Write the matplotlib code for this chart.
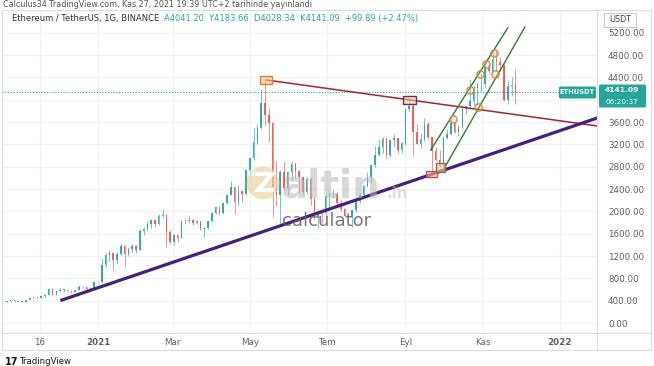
import matplotlib.pyplot as plt
import numpy as np
from matplotlib.patches import Rectangle, Circle, Polygon, FancyBboxPatch

W, H = 654, 366
UP, DOWN = "#26a69a", "#ef5350"
TEAL = "#26a69a"
GRID = "#eff1f5"
FRAME = "#d9dce3"
MUTED = "#5d606b"

plt.rcParams.update({"font.family": "DejaVu Sans", "font.size": 6.3})

# ETH/USDT, one candle every 3 days; x = days since 2021-01-01
FIRST_DAY, STEP = -75, 3
FIRST_OPEN = 372
CLOSE = [378, 390, 410, 395, 385, 385, 415, 455, 460, 455,
         480, 510, 605, 518, 575, 595, 595, 575, 560, 590,
         640, 640, 610, 630, 730, 730, 1040, 1220, 1260, 1130,
         1230, 1380, 1230, 1320, 1380, 1310, 1650, 1680, 1770, 1840,
         1780, 1920, 1930, 1630, 1460, 1570, 1530, 1830, 1820, 1850,
         1800, 1820, 1680, 1710, 1820, 1970, 2070, 1970, 2150, 2300,
         2430, 2160, 2360, 2320, 2750, 2950, 3250, 3490, 3950, 3720,
         3580, 2440, 2300, 2710, 2420, 2700, 2850, 2720, 2610, 2350,
         2580, 2230, 1890, 1990, 1980, 2270, 2320, 2320, 2150, 2040,
         1910, 1900, 2020, 2190, 2300, 2460, 2610, 2830, 3010, 3160,
         3300, 3010, 3280, 3320, 3100, 3230, 3830, 3890, 3420, 3210,
         3290, 3570, 3330, 3080, 2930, 2810, 3310, 3380, 3590, 3420,
         3510, 3830, 3880, 3970, 4220, 4290, 4290, 4600, 4520, 4730,
         4670, 4630, 3990, 4240, 4270, 4141.09]
HIGH = [392, 398, 418, 415, 400, 395, 420, 470, 475, 465,
        495, 520, 620, 610, 585, 620, 610, 600, 580, 595,
        675, 660, 650, 640, 750, 760, 1160, 1260, 1300, 1270,
        1280, 1440, 1400, 1370, 1410, 1390, 1690, 1720, 1820, 1870,
        1860, 1960, 2040, 1960, 1660, 1600, 1580, 1850, 1880, 1940,
        1870, 1840, 1830, 1720, 1840, 1990, 2100, 2100, 2170, 2320,
        2540, 2440, 2480, 2370, 2760, 2980, 3500, 3560, 4200, 4370,
        3850, 3600, 2900, 2750, 2900, 2720, 2900, 2880, 2740, 2620,
        2620, 2600, 2260, 2030, 2050, 2300, 2340, 2400, 2350, 2200,
        2060, 1920, 2030, 2200, 2330, 2470, 2700, 2840, 3180, 3280,
        3330, 3330, 3300, 3380, 3330, 3250, 3840, 4030, 3950, 3560,
        3400, 3680, 3600, 3330, 3160, 3100, 3350, 3470, 3650, 3620,
        3550, 3900, 3890, 4380, 4240, 4300, 4460, 4670, 4630, 4840,
        4870, 4770, 4650, 4350, 4400, 4550]
LOW = [370, 372, 385, 385, 370, 375, 380, 410, 445, 440,
       450, 470, 505, 490, 510, 570, 560, 555, 540, 555,
       585, 620, 580, 590, 620, 710, 720, 1010, 1110, 950,
       1080, 1210, 1000, 1200, 1280, 1260, 1300, 1580, 1640, 1700,
       1720, 1760, 1880, 1370, 1420, 1400, 1450, 1520, 1780, 1800,
       1760, 1770, 1660, 1550, 1690, 1810, 1950, 1940, 1960, 2130,
       2290, 1950, 2100, 2160, 2300, 2720, 2930, 3200, 3480, 3550,
       3250, 1900, 2100, 1730, 2370, 2300, 2550, 2600, 2330, 2300,
       2320, 2120, 1850, 1700, 1800, 1880, 2050, 2240, 2100, 2000,
       1900, 1850, 1720, 1990, 2150, 2250, 2440, 2500, 2800, 3000,
       3050, 2950, 2970, 3150, 3050, 3050, 3190, 3780, 3000, 3200,
       3140, 3270, 3300, 2650, 2900, 2800, 2740, 3290, 3370, 3400,
       3360, 3500, 3740, 3850, 3900, 3900, 4150, 4230, 4480, 4500,
       4510, 4520, 3970, 3930, 4070, 3930]
LAST_PRICE = 4141.09

# drawings (day, price anchors)
RED_X, RED_Y = [133, 395], [4355, 3530]
PURPLE_X, PURPLE_Y = [-28.5, 397], [412, 3692]
CH_UP_X, CH_UP_Y = [263, 324], [3100, 5290]
CH_LO_X, CH_LO_Y = [272, 337.5], [2706, 5305]
CIRCLE_X = [280.6, 294.1, 302, 306.7, 313, 300.4, 313.8]
CIRCLE_Y = [3656, 4176, 4462, 4642, 4839, 3871, 4462]
# boxes: (day0, day1, price0, price1)
BOX_PEAK = (128, 137.5, 4283, 4427)
BOX_SEP = (241, 251.4, 3925, 4068)
BOX_LOW = (259.3, 268, 2616, 2724)
BOX_CH = (267.6, 274.7, 2706, 2867)

YTICKS = list(range(0, 5201, 400))
HIDDEN_TICK = 4000  # sits under the last-price badge
XTICKS = [-46, 0, 59, 120, 181, 243, 304, 365]
XLABELS = ["16", "2021", "Mar", "May", "Tem", "Eyl", "Kas", "2022"]


def frac(x0, y0, x1, y1):
    return [x0 / W, 1 - y1 / H, (x1 - x0) / W, (y1 - y0) / H]


fig = plt.figure(figsize=(W / 100, H / 100), dpi=100)
ax = fig.add_axes(frac(2, 10, 597, 333))

close = np.array(CLOSE, float)
opens = np.r_[FIRST_OPEN, close[:-1]]
x = FIRST_DAY + STEP * np.arange(len(close))
cols = np.where(close >= opens, UP, DOWN)
ax.vlines(x, LOW, HIGH, colors=cols, lw=0.5, alpha=0.9, zorder=3)
ax.bar(x, np.maximum(np.abs(close - opens), 10), width=1.2,
       bottom=np.minimum(opens, close), color=cols, alpha=0.9, lw=0, zorder=3)

ax.axhline(LAST_PRICE, color=TEAL, ls=(0, (1, 1.5)), lw=0.8, zorder=2)

ax.plot(RED_X, RED_Y, color="#a3262a", lw=1.1, zorder=4)
ax.plot(PURPLE_X, PURPLE_Y, color="#43217f", lw=2.3, zorder=4)
ax.plot(CH_UP_X, CH_UP_Y, color="#2e7d32", lw=1.0, zorder=4)
ax.plot(CH_LO_X, CH_LO_Y, color="#2e7d32", lw=1.0, zorder=4)
ax.scatter(CIRCLE_X, CIRCLE_Y, s=28, facecolor=(0.96, 0.75, 0.5, 0.3),
           edgecolor="#c98a4b", lw=0.9, zorder=5)

for (d0, d1, p0, p1), ec in [(BOX_PEAK, "#d9822b"), (BOX_SEP, "#5b2a86"),
                            (BOX_LOW, "#c0504d"), (BOX_CH, "#8c6d4f")]:
    ax.add_patch(Rectangle((d0, p0), d1 - d0, p1 - p0, facecolor=(0.98, 0.78, 0.55, 0.6),
                           edgecolor=ec, lw=1.0, zorder=5))

ax.set_xlim(-75.9, 394.5)
ax.set_ylim(-179, 5609)
ax.set_yticks(YTICKS)
ax.set_yticklabels(["" if v == HIDDEN_TICK else f"{v:.2f}" for v in YTICKS])
ax.yaxis.tick_right()
ax.set_xticks(XTICKS)
ax.set_xticklabels(XLABELS)
for lab in ax.get_xticklabels():
    if lab.get_text() in ("2021", "2022"):
        lab.set_fontweight("bold")
        lab.set_color("#333333")
ax.tick_params(length=0, colors=MUTED, labelsize=6.3)
ax.tick_params(axis="y", pad=8)
ax.tick_params(axis="x", pad=3.5)
ax.grid(color=GRID, lw=0.8, zorder=0)
ax.set_axisbelow(True)
for s in ax.spines.values():
    s.set_visible(False)

# overlay in pixel coordinates for frame, labels, watermark
ov = fig.add_axes([0, 0, 1, 1], facecolor="none")
ov.set_xlim(0, W)
ov.set_ylim(H, 0)
ov.axis("off")
ov.add_patch(Rectangle((2, 10), 649, 340, fill=False, edgecolor=FRAME, lw=0.8))
ov.plot([597, 597], [10, 350], color=FRAME, lw=0.8)
ov.plot([2, 651], [333, 333], color=FRAME, lw=0.8)

ov.text(3, 4.5, "Calculus34 TradingView.com, Kas 27, 2021 19:39 UTC+2 tarihinde yayınlandı",
        fontsize=5.8, color="#555555", va="center")
t = ov.text(12, 18, "Ethereum / TetherUS, 1G, BINANCE  ", fontsize=6, color="#333333", va="center")
ov.annotate("A4041.20  Y4183.66  D4028.34  K4141.09  +99.89 (+2.47%)", xycoords=t,
            xy=(1, 0.5), va="center", fontsize=6, color=TEAL)

# axis badges
ov.add_patch(Rectangle((604, 13), 32, 14, facecolor="white", edgecolor="#c5c8d0", lw=0.7))
ov.text(620, 20, "USDT", fontsize=5.8, color="#444444", ha="center", va="center")
ov.add_patch(FancyBboxPatch((559, 86.5), 37, 12, boxstyle="round,pad=0,rounding_size=1.5",
                            facecolor=TEAL, edgecolor="none"))
ov.text(577.5, 92.5, "ETHUSDT", fontsize=4.8, color="white", weight="bold", ha="center", va="center")
ov.add_patch(FancyBboxPatch((599, 84.5), 47, 23, boxstyle="round,pad=0,rounding_size=1.5",
                            facecolor=TEAL, edgecolor="none"))
ov.text(622, 90, f"{LAST_PRICE:.2f}", fontsize=5.4, color="white", weight="bold", ha="center", va="center")
ov.text(622, 101.5, "06:20:37", fontsize=5.2, color="white", ha="center", va="center")

# watermark
gold = (0.92, 0.80, 0.60, 0.6)
ov.add_patch(Circle((263, 183), 16.5, facecolor=gold, edgecolor="none"))
ov.add_patch(Polygon([[252, 174], [272, 174], [258, 190], [274, 190]], closed=False,
                     fill=False, edgecolor="white", lw=3.0, joinstyle="miter"))
ov.text(281, 198, "altin", fontsize=28, weight="bold", color=(0.72, 0.72, 0.72, 0.55),
        va="baseline")
ov.text(386, 198, ".in", fontsize=11, weight="bold", color=(0.75, 0.75, 0.75, 0.5),
        va="baseline")
ov.text(282, 226, "calculator", fontsize=13, color=(0.38, 0.38, 0.38, 0.85), va="baseline")

# TradingView footer
ov.text(5, 362, "17", fontsize=7, weight="bold", color="#131722", va="center")
ov.text(20, 362, "TradingView", fontsize=6.2, color="#131722", va="center")

fig.savefig("out.png", dpi=100)
